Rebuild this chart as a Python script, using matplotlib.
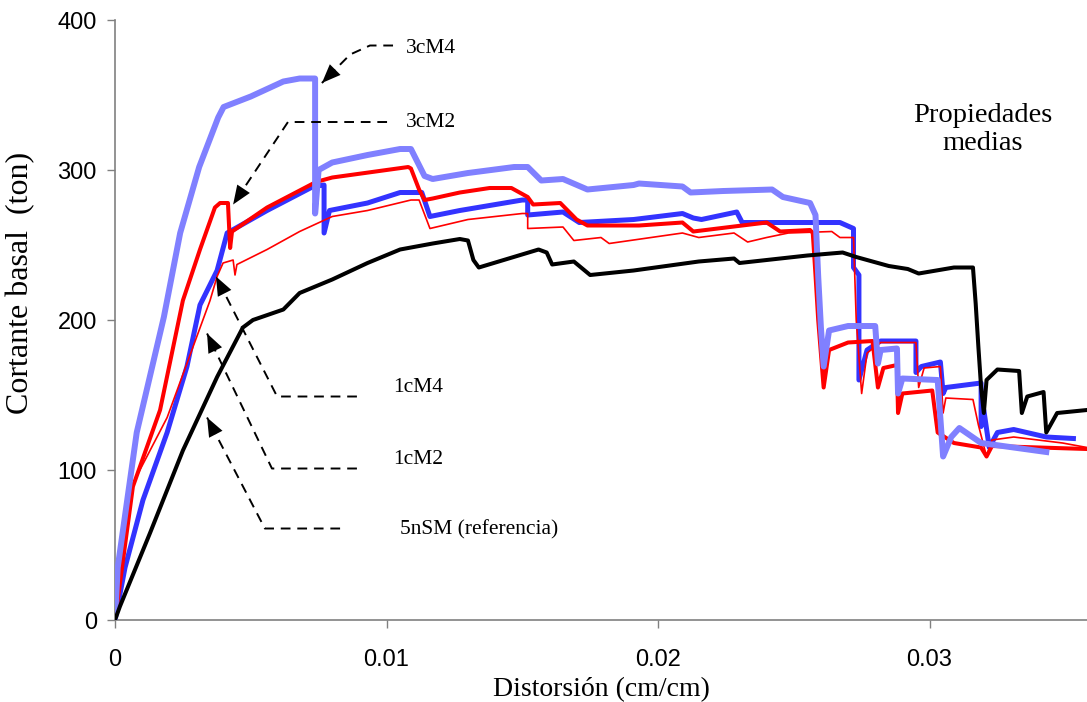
import numpy as np
import matplotlib
matplotlib.use("Agg")
from matplotlib import pyplot as plt

# Data (distortion in cm/cm, base shear in ton)
x_3cm4 = [0, 0.0001, 0.0008, 0.0018, 0.0024, 0.0031, 0.0038, 0.0040, 0.0050, 0.0062, 0.0068,
          0.00737, 0.00737, 0.0075, 0.0080, 0.0093, 0.0105, 0.0109, 0.0114, 0.0117, 0.0130,
          0.0147, 0.0152, 0.0157, 0.0165, 0.0174, 0.0191, 0.0193, 0.0209, 0.0212, 0.0224,
          0.0242, 0.0246, 0.0256, 0.0258, 0.0259, 0.0260, 0.0261, 0.0263, 0.0270, 0.0280,
          0.0281, 0.0282, 0.0288, 0.02884, 0.0290, 0.0303, 0.0305, 0.0308, 0.0311, 0.0319, 0.0343]
y_3cm4 = [0, 35, 125, 202, 258, 302, 335, 342, 349, 359, 361,
          361, 271, 300, 305, 310, 314, 314, 296, 294, 298,
          302, 302, 293, 294, 287, 290, 291, 289, 285, 286,
          287, 282, 278, 270, 229, 195, 169, 193, 196, 196,
          171, 180, 181, 151, 161, 160, 109, 122, 128, 118, 112]

x_1cm4 = [0, 0.00037, 0.00103, 0.00192, 0.00265, 0.00313, 0.00376, 0.00413, 0.0056, 0.0073,
          0.0077, 0.0077, 0.0079, 0.0093, 0.0105, 0.0113, 0.0116, 0.0127, 0.0150, 0.0152,
          0.0152, 0.0165, 0.0171, 0.0191, 0.0209, 0.0213, 0.0216, 0.0229, 0.0231, 0.0267,
          0.0272, 0.0272, 0.0274, 0.0274, 0.0277, 0.0282, 0.0295, 0.0295, 0.0297, 0.0304,
          0.0305, 0.0306, 0.0319, 0.0319, 0.0320, 0.0322, 0.0325, 0.0331, 0.0343, 0.0353]
y_1cm4 = [0, 35, 80, 125, 169, 210, 233, 258, 273, 289,
          290, 258, 273, 278, 285, 285, 269, 273, 280, 280,
          270, 272, 265, 267, 271, 268, 267, 272, 265, 265,
          261, 235, 230, 160, 180, 186, 186, 165, 169, 172,
          151, 155, 158, 129, 140, 115, 125, 127, 122, 121]

x_3cm2 = [0, 0.00066, 0.00166, 0.0025, 0.00313, 0.00368, 0.00387, 0.00416, 0.00424, 0.00431,
          0.0056, 0.0074, 0.0080, 0.0108, 0.0109, 0.0112, 0.0114, 0.0117, 0.0127, 0.0138,
          0.0146, 0.0152, 0.0154, 0.0164, 0.0170, 0.0174, 0.0185, 0.0193, 0.0209, 0.0213,
          0.0240, 0.0245, 0.0256, 0.0257, 0.0258, 0.0259, 0.0261, 0.0263, 0.0270, 0.0279,
          0.0281, 0.0283, 0.0288, 0.02884, 0.0290, 0.0301, 0.0303, 0.0309, 0.0319, 0.0321,
          0.0323, 0.0358]
y_3cm2 = [0, 89, 140, 213, 247, 275, 278, 278, 248, 259,
          275, 292, 295, 302, 301, 287, 280, 281, 285, 288,
          288, 282, 277, 278, 267, 263, 263, 263, 265, 259,
          265, 259, 260, 258, 230, 200, 155, 180, 185, 186,
          155, 168, 170, 138, 151, 153, 125, 118, 115, 109,
          116, 114]

x_1cm2 = [0, 0.00066, 0.00192, 0.0035, 0.00376, 0.00398, 0.00435, 0.00442, 0.00449, 0.0056,
          0.0068, 0.0080, 0.0093, 0.0109, 0.0112, 0.0116, 0.0130, 0.0150, 0.0152, 0.0152,
          0.0165, 0.0169, 0.0179, 0.0182, 0.0209, 0.0215, 0.0228, 0.0233, 0.0240, 0.0248,
          0.0264, 0.0267, 0.0272, 0.0273, 0.0275, 0.0277, 0.0282, 0.0295, 0.0296, 0.0298,
          0.0304, 0.0305, 0.0306, 0.0316, 0.0318, 0.0321, 0.0323, 0.0331, 0.0349, 0.0358]
y_1cm2 = [0, 91, 135, 213, 229, 238, 240, 230, 237, 247,
          259, 269, 273, 280, 280, 261, 267, 271, 271, 261,
          262, 253, 255, 251, 258, 255, 258, 252, 255, 258,
          259, 255, 255, 200, 151, 178, 185, 185, 155, 168,
          169, 138, 148, 147, 130, 109, 120, 122, 118, 115]

x_5nsm = [0, 0.00018, 0.00129, 0.0025, 0.00376, 0.00471, 0.00508, 0.0062, 0.0068, 0.0080,
          0.0093, 0.0105, 0.0117, 0.0127, 0.0130, 0.0132, 0.0134, 0.0156, 0.0159, 0.0161,
          0.0169, 0.0175, 0.0191, 0.0215, 0.0228, 0.0230, 0.0255, 0.0268, 0.0273, 0.0285,
          0.0292, 0.0296, 0.0309, 0.0316, 0.0317, 0.0318, 0.0319, 0.0320, 0.0321, 0.0325,
          0.0333, 0.0334, 0.0336, 0.0342, 0.0343, 0.0347, 0.0358]
y_5nsm = [0, 9, 58, 113, 162, 195, 200, 207, 218, 227,
          238, 247, 251, 254, 253, 240, 235, 247, 245, 237,
          239, 230, 233, 239, 241, 238, 243, 245, 242, 236,
          234, 231, 235, 235, 211, 182, 155, 138, 160, 167,
          166, 138, 149, 152, 125, 138, 140]

# annotation: label, text position, dashed path (bend points), arrow tip
labels = ["3cM4", "3cM2", "1cM4", "1cM2", "5nSM (referencia)"]
text_pos = [(0.0107, 381), (0.0107, 332), (0.01024, 155), (0.01024, 107), (0.0105, 60)]
paths = [[(0.01024, 383), (0.00939, 383), (0.00866, 377)],
         [(0.01002, 332), (0.00637, 332)],
         [(0.00891, 149), (0.00597, 149)],
         [(0.00891, 101), (0.00578, 101)],
         [(0.00829, 61), (0.00552, 61)]]
tips = [(0.00762, 358), (0.00435, 277), (0.00372, 229), (0.00339, 191), (0.00339, 135)]

fig = plt.figure(figsize=(10.87, 7.02), dpi=100)
ax = fig.add_axes([0.1058, 0.1168, 0.8942, 0.8547])

ax.plot(x_1cm4, y_1cm4, color='#3333ff', lw=3.6, zorder=2)
ax.plot(x_1cm2, y_1cm2, color='#ff0000', lw=1.2, zorder=3)
ax.plot(x_3cm2, y_3cm2, color='#ff0000', lw=2.9, zorder=4)
ax.plot(x_3cm4, y_3cm4, color='#8080ff', lw=4.3, zorder=5)
ax.plot(x_5nsm, y_5nsm, color='black', lw=2.9, zorder=6)

for lab, tp, path, tip in zip(labels, text_pos, paths, tips):
    px = [p[0] for p in path] + [tip[0]]
    py = [p[1] for p in path] + [tip[1]]
    ax.plot(px, py, color='black', lw=1.4, ls=(0, (5, 3.5)), zorder=7)
    ax.annotate("", xy=tip, xytext=path[-1],
                arrowprops=dict(arrowstyle='-|>,head_length=0.8,head_width=0.32',
                                mutation_scale=17, color='black', lw=0,
                                shrinkA=0, shrinkB=0),
                zorder=8)
    ax.text(tp[0], tp[1], lab, fontsize=15.5, family='Liberation Serif',
            va='center', ha='left', zorder=8)

ax.text(0.03197, 327, "Propiedades\nmedias", fontsize=20.5, family='Liberation Serif',
        ha='center', va='center', linespacing=1.15)

ax.set_xlim(0, 0.0358)
ax.set_ylim(0, 400)
ax.set_xticks([0, 0.01, 0.02, 0.03])
ax.set_xticklabels(["0", "0.01", "0.02", "0.03"])
ax.set_yticks([0, 100, 200, 300, 400])
for s in ['top', 'right']:
    ax.spines[s].set_visible(False)
for s in ['left', 'bottom']:
    ax.spines[s].set_color('#808080')
    ax.spines[s].set_linewidth(1.2)
ax.tick_params(axis='both', direction='out', length=6, width=1.0, color='#808080',
               labelsize=17)
ax.tick_params(axis='x', pad=15)
ax.tick_params(axis='y', pad=7)
for lbl in ax.get_xticklabels() + ax.get_yticklabels():
    lbl.set_family('Liberation Sans')

ax.set_xlabel("Distorsión (cm/cm)", fontsize=20, family='Liberation Serif', labelpad=4)
ax.set_ylabel("Cortante basal  (ton)", fontsize=23, family='Liberation Serif')
ax.yaxis.set_label_coords(-0.082, 0.562)

fig.savefig("out.png", dpi=100)
